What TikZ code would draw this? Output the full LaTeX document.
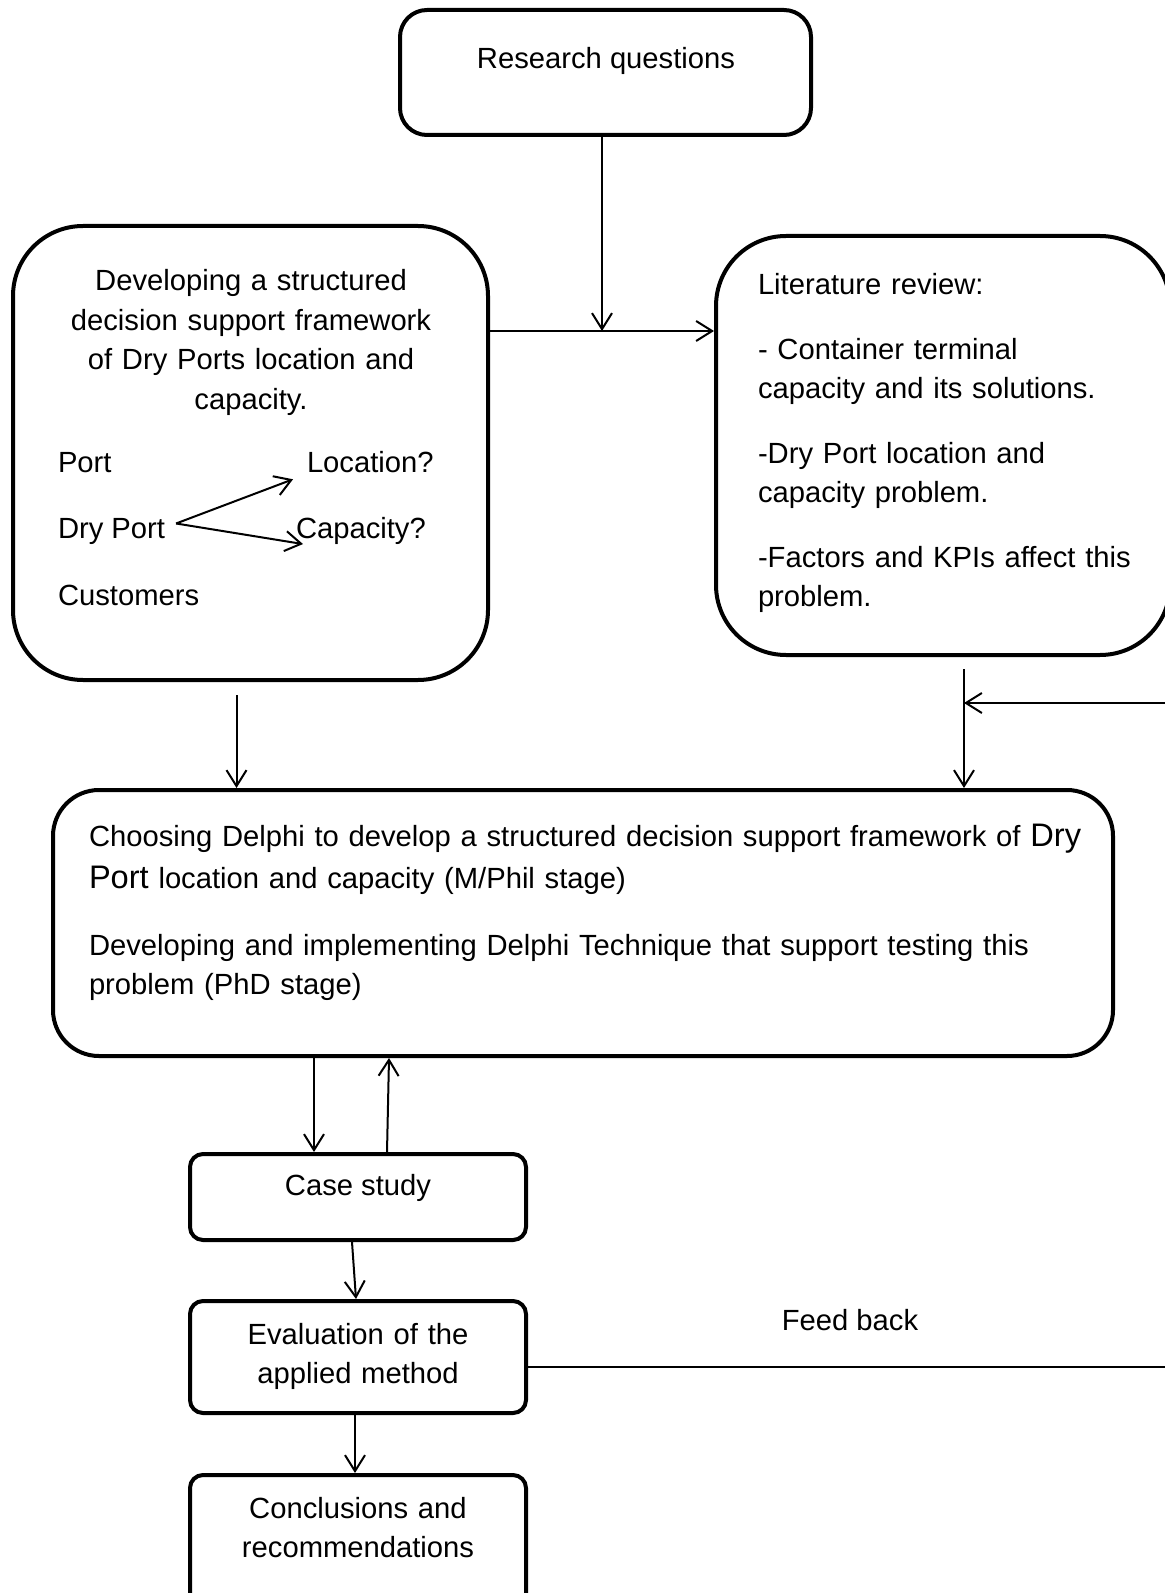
\documentclass[tikz,border=0pt]{standalone}
\usepackage{fontspec}
\setmainfont{Liberation Sans}
\usetikzlibrary{arrows.meta}
\newcommand{\dpsize}{\fontsize{16.3}{19.75}\selectfont}

\begin{document}
\begin{tikzpicture}
[x=0.5pt, y=-0.5pt, line width=1pt,
  font=\fontsize{14.6}{19.75}\selectfont,
  >={Straight Barb[length=8pt,width=10pt]},
  box/.style={draw, line width=2pt, rounded corners=#1, inner sep=0pt},
  txt/.style={inner sep=0pt, anchor=base},
  block/.style={inner sep=0pt, anchor=base west, align=left, text width=#1}]
  \useasboundingbox (0,0) rectangle (1164,1593);
  % boxes
  \node[box=13.5pt, minimum width=205.5pt, minimum height=62.5pt] (rq) at (605.5,72.5) {};
  \node[box=35pt, minimum width=237.5pt, minimum height=227pt] (dev) at (250.5,453) {};
  \node[box=35pt, minimum width=227pt, minimum height=209.5pt] (lit) at (943,445.5) {};
  \node[box=23pt, minimum width=530pt, minimum height=133pt] (delphi) at (583,923) {};
  \node[box=6.5pt, minimum width=168pt, minimum height=43pt] (case) at (358,1197) {};
  \node[box=6.5pt, minimum width=168pt, minimum height=56pt] (eval) at (358,1357) {};
  \node[box=6.5pt, minimum width=168pt, minimum height=72.5pt] (conc) at (358,1547.5) {};
  % texts
  \node[txt] (rqtext) at (606,69) {Research questions};
  \node[txt, align=center, text width=200pt] (devtext) at (251,291)
    {Developing a structured\\ decision support framework\\ of Dry Ports location and\\ capacity.};
  \node[txt, anchor=base west] (port) at (57,473) {Port};
  \node[txt, anchor=base west] (dry) at (57,538) {Dry Port};
  \node[txt, anchor=base west] (cust) at (57,605) {Customers};
  \node[txt, anchor=base west] (loc) at (306,473) {Location?};
  \node[txt, anchor=base west] (cap) at (295,538) {Capacity?};
  \node[block=215pt] (littext) at (757,295)
    {Literature review:\\[12.5pt] - Container terminal\\ capacity and its solutions.\\[12.5pt]
     -Dry Port location and\\ capacity problem.\\[12.5pt] -Factors and KPIs affect this\\ problem.};
  \node[block=520pt] (delphitext) at (88,846)
    {Choosing Delphi to develop a structured decision support framework of {\dpsize Dry}\\[1.25pt]
     {\dpsize Port} location and capacity (M/Phil stage)\\[13.75pt]
     Developing and implementing Delphi Technique that support testing this\\ problem (PhD stage)};
  \node[txt] (casetext) at (358,1195) {Case study};
  \node[txt, align=center, text width=160pt] (evaltext) at (358,1344) {Evaluation of the\\ applied method};
  \node[txt, align=center, text width=160pt] (conctext) at (358,1518) {Conclusions and\\ recommendations};
  \node[txt] (fb) at (850,1330) {Feed back};
  % connectors
  \coordinate (fork) at ([xshift=5pt,yshift=3.75pt]dry.east);
  \draw[->] (fork) -- ([xshift=-6.5pt,yshift=-2.5pt]loc.south west);
  \draw[->] (fork) -- ([xshift=4pt,yshift=0.5pt]cap.south west);
  \coordinate (join) at (602,331);
  \coordinate (fbin) at (964,703);
  \coordinate (fbturn) at (1190,703);
  \draw[->] (rq.south -| join) -- (join);
  \draw[->] (dev.east |- join) -- (lit.west |- join);
  \draw[->, shorten <=6.5pt] ([xshift=-7pt]dev.south) -- ([xshift=-7pt]dev.south |- delphi.north);
  \draw[->, shorten <=6pt] (lit.south -| fbin) -- (delphi.north -| fbin);
  \draw[->] ([yshift=-5pt]eval.east) -| (fbturn) -- (fbin);
  \draw[->] ([xshift=-22pt]case.north |- delphi.south) -- ([xshift=-22pt]case.north);
  \draw[->] ([xshift=14.5pt]case.north) -- ([xshift=15.5pt]case.north |- delphi.south);
  \draw[->] ([xshift=-3pt]case.south) -- ([xshift=-1pt]eval.north);
  \draw[->] ([xshift=-1.5pt]eval.south) -- ([xshift=-1.5pt]conc.north);
\end{tikzpicture}
\end{document}
